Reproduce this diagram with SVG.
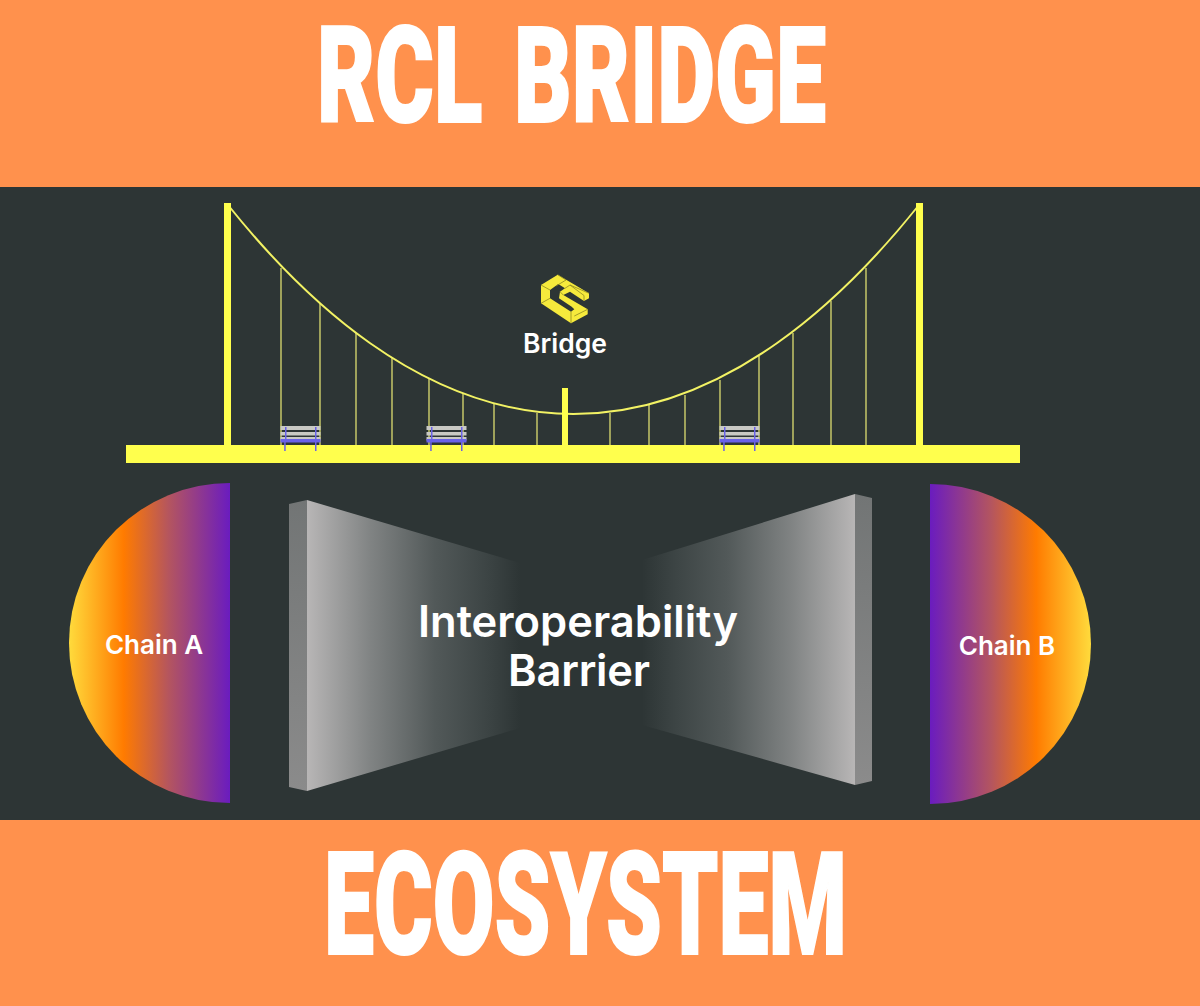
<svg xmlns="http://www.w3.org/2000/svg" width="1200" height="1006" viewBox="0 0 1200 1006">
<style>
.title{font-family:Roboto,"Liberation Sans",Arial,sans-serif;font-weight:900;fill:#fff;stroke:#fff;stroke-width:2;stroke-linejoin:miter}
.lab{font-family:Inter,"Liberation Sans",sans-serif;fill:#fff;font-weight:600}
.pylon{fill:#ffff4d}
.hanger{stroke:#dcdc70;stroke-width:1.3;fill:none}
.slat{fill:#c9c9c4}
.leg{fill:#6a62e8}
.bevel{fill:none;stroke:#8f8a22;stroke-width:.8}
</style>
<defs>
<linearGradient id="chainA" x1="0" x2="1" y1="0" y2="0"><stop offset="0" stop-color="#ffdb3c"/><stop offset=".34" stop-color="#ff7b00"/><stop offset=".62" stop-color="#b4555f"/><stop offset="1" stop-color="#6a1cbf"/></linearGradient>
<linearGradient id="chainB" x1="1" x2="0" y1="0" y2="0"><stop offset="0" stop-color="#ffdb3c"/><stop offset=".34" stop-color="#ff7b00"/><stop offset=".62" stop-color="#b4555f"/><stop offset="1" stop-color="#6a1cbf"/></linearGradient>
<linearGradient id="wallL" gradientUnits="userSpaceOnUse" x1="307" x2="520" y1="0" y2="0"><stop offset="0" stop-color="#b8b6b6"/><stop offset=".3" stop-color="#808383"/><stop offset=".6" stop-color="#525959"/><stop offset=".85" stop-color="#3c4444"/><stop offset=".97" stop-color="#303838"/><stop offset="1" stop-color="#2d3535"/></linearGradient>
<linearGradient id="wallR" gradientUnits="userSpaceOnUse" x1="855" x2="642" y1="0" y2="0"><stop offset="0" stop-color="#b8b6b6"/><stop offset=".3" stop-color="#808383"/><stop offset=".6" stop-color="#525959"/><stop offset=".85" stop-color="#3c4444"/><stop offset=".97" stop-color="#303838"/><stop offset="1" stop-color="#2d3535"/></linearGradient>
<linearGradient id="side" x1="0" x2="0" y1="0" y2="1"><stop offset="0" stop-color="#727575"/><stop offset="1" stop-color="#8b8b8b"/></linearGradient>
<g id="bench">
<rect x="0" y="0" width="40" height="4" class="slat"/><rect x="0" y="6" width="40" height="3.5" class="slat"/><rect x="0" y="11" width="40" height="3.5" class="slat"/>
<rect x="4.5" y="1" width="1.5" height="12" class="leg"/><rect x="34.5" y="1" width="1.5" height="12" class="leg"/>
<rect x="0" y="13" width="40" height="3.5" fill="#6a62e8"/>
<rect x="3.7" y="16" width="1.5" height="9" class="leg"/><rect x="34.5" y="16" width="1.5" height="9" class="leg"/>
</g>
</defs>
<rect width="1200" height="1006" fill="#ff914d"/>
<rect y="187" width="1200" height="633" fill="#2d3535"/>
<g id="title-top"><text class="title" x="317" y="122" font-size="134" word-spacing="14" textLength="509" lengthAdjust="spacingAndGlyphs">RCL BRIDGE</text></g>
<g id="title-bottom"><text class="title" x="324" y="953.5" font-size="143" textLength="523" lengthAdjust="spacingAndGlyphs">ECOSYSTEM</text></g>
<g id="connectors">
<path d="M281 268V445M320 303V445M356 333V445M392 357V445M429 378V445M463 393V445M494 404V445M537 413V445M610 413V445M649 405V445M685 395V445M720 380V445M759 356V445M793 333V445M831 301V445M866 268V445" class="hanger"/>
<path d="M228 205C300 295 420 414 573.5 414S847 295 919 205" fill="none" stroke="#f2f264" stroke-width="2"/>
</g>
<g id="bridge">
<rect class="pylon" x="224" y="203" width="7" height="244"/>
<rect class="pylon" x="916" y="203" width="7" height="244"/>
<rect class="pylon" x="562" y="388" width="6" height="60"/>
<rect class="pylon" x="126" y="445" width="894" height="18"/>
</g>
<g id="bench-1"><use href="#bench" x="280.5" y="426"/></g>
<g id="bench-2"><use href="#bench" x="426.5" y="426"/></g>
<g id="bench-3"><use href="#bench" x="719.5" y="426"/></g>
<g id="logo">
<path d="M541 285L557.7 274.7L589 293.3V298.3L584 301L570 291.7L563.3 295L587.7 309.3V314.3L571 323.3L541 303.3Z" fill="#f6ea3c"/>
<path d="M550 290L558.3 284L565 288.3L560 291.7L559 298.3L571.7 306.7L574.3 309.3L571 311.7L550 298.3Z" fill="#2d3535"/>
<path class="bevel" d="M541 285L550 290M557.7 274.7L566 280L556 286M541 303.3L550 298.3M571 311.7V323.3M587.7 309.3L574.3 316M565 288.3L570 285L589 293.3M584 301V295.5L570 285M563.3 295L560 291.7"/>
<text class="lab" x="565" y="353" font-size="26.5" text-anchor="middle">Bridge</text>
</g>
<g id="chain-a"><path d="M230 483A161 160 0 0 0 230 803Z" fill="url(#chainA)"/><text class="lab" x="154" y="654" font-size="26" text-anchor="middle">Chain A</text></g>
<g id="chain-b"><path d="M930 484A161 160 0 0 1 930 804Z" fill="url(#chainB)"/><text class="lab" x="1007" y="655" font-size="26" text-anchor="middle">Chain B</text></g>
<g id="wall-left"><path d="M289 504L307 500V791L289 787Z" fill="url(#side)"/><path d="M307 500L520 563V728L307 791Z" fill="url(#wallL)"/></g>
<g id="wall-right"><path d="M855 494L872 498V781L855 785Z" fill="url(#side)"/><path d="M855 494L642 560V725L855 785Z" fill="url(#wallR)"/></g>
<g id="barrier-label"><text class="lab" x="418" y="637" font-size="43.5" textLength="320" lengthAdjust="spacing">Interoperability</text><text class="lab" x="508" y="686" font-size="43.5" textLength="142" lengthAdjust="spacing">Barrier</text></g>
</svg>
